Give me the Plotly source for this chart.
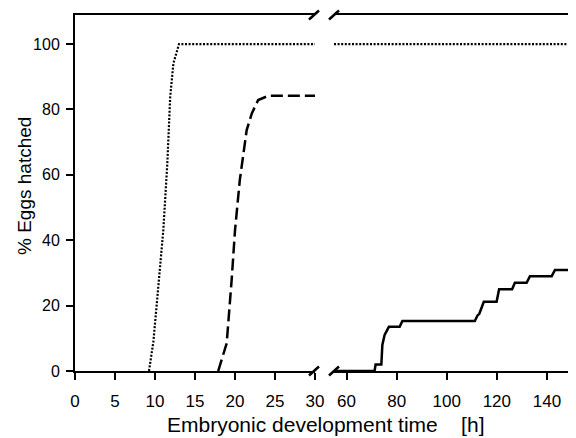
import plotly.graph_objects as go

# ---- data ----
dot_x_left = [9.25, 9.8, 10.3, 11.04, 11.54, 11.9, 12.3, 12.8, 13.0, 30.0]
dot_y_left = [0, 9, 22.7, 43.1, 63.5, 83.9, 94.1, 98.2, 100, 100]
dot_x_right = [55, 150]
dot_y_right = [100, 100]

dash_x = [17.9, 18.96, 19.58, 20.0, 20.6, 21.46, 22.1, 22.9, 24.2, 30.0]
dash_y = [0, 8.5, 27.8, 43, 58.4, 73.7, 78.8, 82.9, 84.2, 84.2]

solid_x = [55, 71.2, 71.6, 73.9, 74.3, 75.2, 76.9, 81.2, 82.3, 111.2, 112.3, 113.0,
           114.8, 119.9, 120.9, 126.1, 127.2, 131.9, 133.2, 141.9, 143.2, 150]
solid_y = [0, 0, 2, 2, 8, 11, 13.5, 13.5, 15.3, 15.3, 17, 17.5,
           21.2, 21.2, 25, 25, 27, 27, 29, 29, 30.9, 30.9]

x_ticks_left = [0, 5, 10, 15, 20, 25, 30]
x_ticks_right = [60, 80, 100, 120, 140]
y_ticks = [0, 20, 40, 60, 80, 100]

# ---- layout geometry (page has an 8px body margin) ----
OFF = 8
W, H = 576 - OFF, 438 - OFF
L, R, T, B = 75 - OFF, 4, 15 - OFF, 438 - 371
pw, ph = W - L - R, H - T - B
left_end = 240 / pw
right_start = 259 / pw

def px(x):  # page pixel -> paper
    return (x - OFF - L) / pw

def py(y):
    return (H - B - (y - OFF)) / ph

FONT = "Liberation Sans, Arial, sans-serif"

fig = go.Figure()
dot_style = dict(color="black", width=2.2, dash="2px,1.6px")
fig.add_trace(go.Scatter(x=dot_x_left, y=dot_y_left, mode="lines", xaxis="x", yaxis="y",
                         line=dot_style, showlegend=False))
fig.add_trace(go.Scatter(x=dot_x_right, y=dot_y_right, mode="lines", xaxis="x2", yaxis="y",
                         line=dot_style, showlegend=False))
fig.add_trace(go.Scatter(x=dash_x, y=dash_y, mode="lines", xaxis="x", yaxis="y",
                         line=dict(color="black", width=2.5, dash="12px,5px"), showlegend=False))
fig.add_trace(go.Scatter(x=solid_x, y=solid_y, mode="lines", xaxis="x2", yaxis="y",
                         line=dict(color="black", width=2.5), showlegend=False))

axis_common = dict(showline=True, linecolor="black", linewidth=2, ticks="outside",
                   ticklen=7, tickwidth=2, tickcolor="black", showgrid=False, zeroline=False,
                   automargin=False)
xfont = dict(family=FONT, size=17, color="black")
yfont = dict(family=FONT, size=16, color="black")

shapes = []
shapes.append(dict(type="line", xref="paper", yref="paper", x0=1, x1=1, y0=0, y1=1,
                   line=dict(color="black", width=2)))
for cx in (314, 334):
    for cy in (15, 371):
        shapes.append(dict(type="line", xref="paper", yref="paper",
                           x0=px(cx - 5), y0=py(cy + 4.5), x1=px(cx + 5), y1=py(cy - 4.5),
                           line=dict(color="black", width=2.5)))

fig.update_layout(
    width=W, height=H,
    margin=dict(l=L, r=R, t=T, b=B, autoexpand=False),
    paper_bgcolor="white", plot_bgcolor="white",
    xaxis=dict(domain=[0, left_end], range=[0, 30], tickvals=x_ticks_left, mirror=True,
               anchor="y", tickfont=xfont, ticklabelstandoff=7, **axis_common),
    xaxis2=dict(domain=[right_start, 1], range=[55, 150], tickvals=x_ticks_right, mirror=True,
                anchor="y", tickfont=xfont, ticklabelstandoff=7, **axis_common),
    yaxis=dict(range=[0, 108.9], tickvals=y_ticks, anchor="x", tickfont=yfont,
               ticklabelstandoff=3, **axis_common),
    shapes=shapes,
    annotations=[
        dict(text="Embryonic development time    [h]", xref="paper", yref="paper",
             x=px(325), y=py(424), xanchor="center", yanchor="middle", showarrow=False,
             font=dict(family=FONT, size=21, color="black")),
        dict(text="% Eggs hatched", xref="paper", yref="paper", textangle=-90,
             x=px(24), y=py(186), xanchor="center", yanchor="middle", showarrow=False,
             font=dict(family=FONT, size=19, color="black")),
    ],
)

fig.write_html("out.html")
